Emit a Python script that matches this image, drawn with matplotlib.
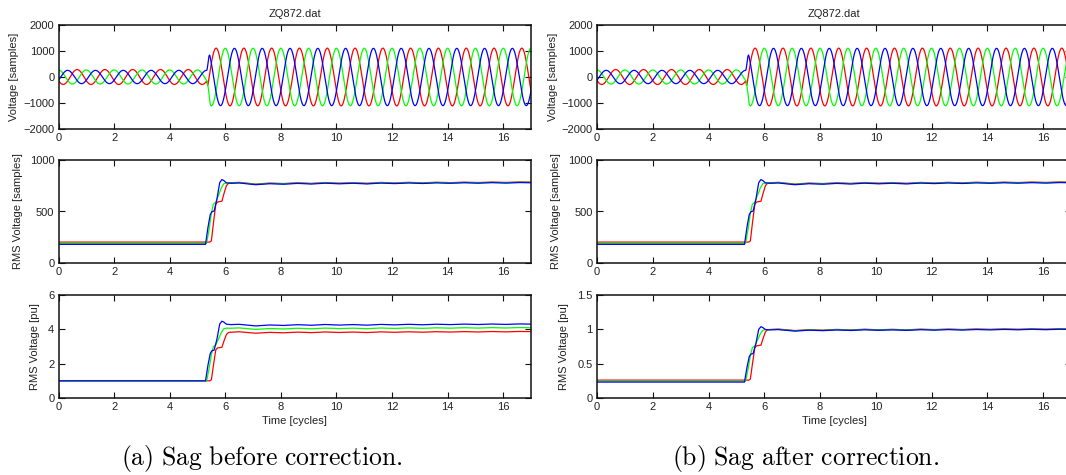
import numpy as np
import matplotlib
matplotlib.use("Agg")
import matplotlib.pyplot as plt

plt.rcParams["font.family"] = ["Liberation Sans", "DejaVu Sans"]
plt.rcParams["mathtext.fontset"] = "cm"

# ---- data -------------------------------------------------------------
TITLE = "ZQ872.dat"
PHASES = ["red", "green", "blue"]
COLORS = {"red": "#ff0000", "green": "#00ff00", "blue": "#0000ff"}

# waveform: cycle fraction of each phase's positive peak, and the sag end
PEAK_PHASE = {"red": 0.67, "green": 0.0, "blue": 0.33}
SWITCH_T = {"red": 5.33, "green": 5.33, "blue": 5.33}
RAMP_LEN = {"red": 0.05, "green": 0.15, "blue": 0.12}

# one-cycle RMS voltage [samples], onset of recovery per phase
RMS_T = {
    "red":   [0, 5.44, 5.50, 5.58, 5.66, 5.72, 5.80, 5.88, 5.96, 6.04, 6.12, 6.20],
    "green": [0, 5.33, 5.42, 5.50, 5.57, 5.66, 5.76, 5.86, 5.95, 6.04, 6.20],
    "blue":  [0, 5.29, 5.38, 5.46, 5.52, 5.60, 5.70, 5.80, 5.88, 5.95, 6.04, 6.20],
}
RMS_V = {
    "red":   [203, 203, 215, 400, 570, 592, 596, 600, 680, 750, 776, 778],
    "green": [191, 191, 330, 480, 570, 590, 660, 730, 770, 777, 776],
    "blue":  [181, 181, 350, 470, 498, 505, 620, 780, 810, 800, 778, 774],
}
# recovered RMS level after the sag (shared ripple, small per-phase offset)
POST_T = [6.5, 7.1, 7.6, 8.1, 8.6, 9.1, 9.6, 10.1, 10.6, 11.1, 11.6, 12.1,
          12.6, 13.1, 13.6, 14.1, 14.6, 15.1, 15.6, 16.1, 16.6, 17.0]
POST_V = [780, 763, 773, 768, 776, 770, 778, 772, 777, 771, 779, 774,
          780, 775, 781, 777, 782, 778, 783, 779, 784, 782]
POST_OFFSET = {"red": 3, "green": 0, "blue": -3}
RMS_NOMINAL = 780.0

XTICKS = [0, 2, 4, 6, 8, 10, 12, 14, 16]
XLIM = (0, 17)
CAPTIONS = ["(a)\\ Sag\\ before\\ correction.", "(b)\\ Sag\\ after\\ correction."]


def rms_trace(ph):
    t = np.array(RMS_T[ph] + POST_T, dtype=float)
    v = np.array(RMS_V[ph] + [p + POST_OFFSET[ph] for p in POST_V], dtype=float)
    return t, v


def waveform(ph, t):
    _, v = rms_trace(ph)
    a_pre = np.sqrt(2) * v[0]
    a_post = np.sqrt(2) * v[-1]
    x = np.clip((t - SWITCH_T[ph]) / RAMP_LEN[ph], 0, 1)
    amp = a_pre + (a_post - a_pre) * x * x * (3 - 2 * x)
    return amp * np.cos(2 * np.pi * (t - PEAK_PHASE[ph]))


# ---- layout -----------------------------------------------------------
W, H = 1066, 475
fig = plt.figure(figsize=(W / 100, H / 100), dpi=100)

COLS = [(58.5, 531.0), (597.0, 1071.0)]
ROWS = [(25, 129), (160, 263), (295, 398)]
FS = 8
TXT = "#222222"


def add_ax(col, row):
    x0, x1 = COLS[col]
    y0, y1 = ROWS[row]
    return fig.add_axes([x0 / W, 1 - y1 / H, (x1 - x0) / W, (y1 - y0) / H])


def style(ax):
    ax.set_xlim(*XLIM)
    ax.set_xticks(XTICKS)
    ax.tick_params(direction="in", top=True, right=True, length=4,
                   width=0.8, labelsize=FS, pad=3, colors="#111111",
                   labelcolor=TXT)
    for s in ax.spines.values():
        s.set_linewidth(1.1)
        s.set_color("#111111")


t_wave = np.linspace(0, 17, 17 * 160 + 1)
LW = 0.9

for col in range(2):
    # instantaneous voltage
    ax = add_ax(col, 0)
    for ph in PHASES:
        ax.plot(t_wave, waveform(ph, t_wave), color=COLORS[ph], lw=LW)
    style(ax)
    ax.set_ylim(-2000, 2000)
    ax.set_yticks([-2000, -1000, 0, 1000, 2000])
    ax.set_ylabel("Voltage [samples]", fontsize=FS, color=TXT, labelpad=3)
    ax.set_title(TITLE, fontsize=FS, color=TXT, pad=6)

    # RMS in samples
    ax = add_ax(col, 1)
    for ph in PHASES:
        t, v = rms_trace(ph)
        ax.plot(t, v, color=COLORS[ph], lw=LW)
    style(ax)
    ax.set_ylim(0, 1000)
    ax.set_yticks([0, 500, 1000])
    ax.set_ylabel("RMS Voltage [samples]", fontsize=FS, color=TXT, labelpad=5)

    # RMS in per unit
    ax = add_ax(col, 2)
    for ph in PHASES:
        t, v = rms_trace(ph)
        base = v[0] if col == 0 else RMS_NOMINAL
        ax.plot(t, v / base, color=COLORS[ph], lw=LW)
    style(ax)
    if col == 0:
        ax.set_ylim(0, 6)
        ax.set_yticks([0, 2, 4, 6])
    else:
        ax.set_ylim(0, 1.5)
        ax.set_yticks([0, 0.5, 1, 1.5])
        ax.set_yticklabels(["0", "0.5", "1", "1.5"])
    ax.set_ylabel("RMS Voltage [pu]", fontsize=FS, color=TXT, labelpad=6)
    ax.set_xlabel("Time [cycles]", fontsize=FS, color=TXT, labelpad=3)

for cx, cap in zip([262, 806], CAPTIONS):
    fig.text(cx / W, 1 - 458 / H, "$\\mathrm{" + cap + "}$", ha="center",
             va="center", fontsize=18.5)

fig.savefig("out.png", dpi=100)
